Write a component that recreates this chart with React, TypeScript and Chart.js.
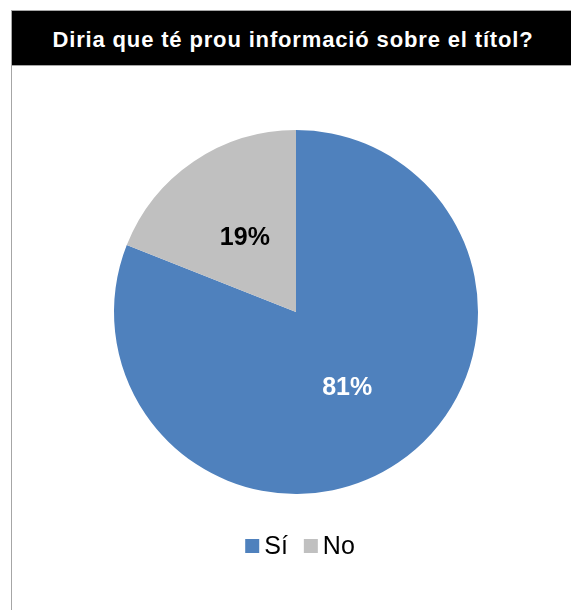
import React, { useEffect, useRef } from "react";
import { Chart, ArcElement, PieController } from "chart.js";

Chart.register(ArcElement, PieController);

const categories = ["Sí", "No"];
const values = [81, 19];
const sliceColors = ["#4F81BD", "#C0C0C0"];
const valueLabelColors = ["#FFFFFF", "#000000"];
const titleText = "Diria que té prou informació sobre el títol?";

const FONT = "'Liberation Sans', Arial, Helvetica, sans-serif";

// Percentage labels placed at the middle of each slice
const sliceLabels = {
  id: "sliceLabels",
  afterDatasetsDraw(chart: any) {
    const ctx = chart.ctx;
    const meta = chart.getDatasetMeta(0);
    const data = chart.data.datasets[0].data as number[];
    const total = data.reduce((a, b) => a + b, 0);
    ctx.save();
    ctx.font = `bold 25px ${FONT}`;
    ctx.textAlign = "center";
    ctx.textBaseline = "middle";
    meta.data.forEach((arc: any, i: number) => {
      const p = arc.tooltipPosition(true);
      ctx.fillStyle = valueLabelColors[i];
      ctx.fillText(`${Math.round((data[i] / total) * 100)}%`, p.x, p.y + 1);
    });
    ctx.restore();
  },
};

// Square-marker legend below the pie
const bottomLegend = {
  id: "bottomLegend",
  afterDraw(chart: any) {
    const ctx = chart.ctx;
    const ds = chart.data.datasets[0];
    const labels = chart.data.labels as string[];
    const box = 14;
    const textGap = 5;
    const itemGap = 16;
    ctx.save();
    ctx.font = `25px ${FONT}`;
    ctx.textBaseline = "middle";
    ctx.textAlign = "left";
    const widths = labels.map((l) => box + textGap + ctx.measureText(l).width);
    const total = widths.reduce((a, b) => a + b, 0) + itemGap * (labels.length - 1);
    const area = chart.chartArea;
    const cy = area.bottom + 52;
    let x = (area.left + area.right) / 2 + 4 - total / 2;
    labels.forEach((l, i) => {
      ctx.fillStyle = ds.backgroundColor[i];
      ctx.fillRect(x, cy - box / 2, box, box);
      ctx.fillStyle = "#000000";
      ctx.fillText(l, x + box + textGap, cy + 1);
      x += widths[i] + itemGap;
    });
    ctx.restore();
  },
};

function PieChart() {
  const canvasRef = useRef<HTMLCanvasElement | null>(null);

  useEffect(() => {
    if (!canvasRef.current) return;
    const chart = new Chart(canvasRef.current, {
      type: "pie",
      data: {
        labels: categories,
        datasets: [
          {
            data: values,
            backgroundColor: sliceColors,
            borderWidth: 0,
          },
        ],
      },
      options: {
        animation: false,
        responsive: true,
        maintainAspectRatio: false,
        layout: { padding: { left: 102, right: 92, top: 64, bottom: 116 } },
        plugins: {
          legend: { display: false },
          tooltip: { enabled: false },
        },
      },
      plugins: [sliceLabels, bottomLegend],
    });
    return () => chart.destroy();
  }, []);

  return <canvas ref={canvasRef} />;
}

export default function App() {
  return (
    <div
      style={{
        position: "absolute",
        left: 0,
        top: 0,
        width: 571,
        height: 610,
        overflow: "hidden",
        background: "#ffffff",
      }}
    >
      <div
        style={{
          position: "absolute",
          left: 11,
          top: 10,
          width: 570,
          height: 620,
          boxSizing: "border-box",
          border: "1px solid #a6a6a6",
        }}
      />
      <div
        style={{
          position: "absolute",
          left: 12,
          top: 11,
          width: 559,
          height: 55,
          boxSizing: "border-box",
          background: "#000000",
          borderBottom: "1px solid #a6a6a6",
          color: "#ffffff",
          font: `bold 22px ${FONT}`,
          letterSpacing: "0.85px",
          display: "flex",
          alignItems: "center",
          justifyContent: "center",
          paddingTop: 4,
          paddingLeft: 3,
          whiteSpace: "nowrap",
        }}
      >
        {titleText}
      </div>
      <div
        style={{
          position: "absolute",
          left: 12,
          top: 66,
          width: 558,
          height: 544,
        }}
      >
        <PieChart />
      </div>
    </div>
  );
}
